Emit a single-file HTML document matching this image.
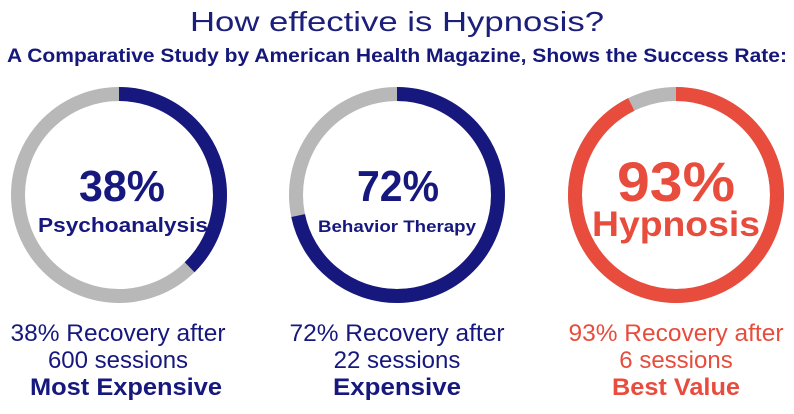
<!DOCTYPE html>
<html><head><meta charset="utf-8"><style>
html,body{margin:0;padding:0;background:#fff;width:794px;height:414px;overflow:hidden}
text{font-family:"Liberation Sans",sans-serif}
</style></head><body>
<svg width="794" height="414" viewBox="0 0 794 414" xmlns="http://www.w3.org/2000/svg">
<text x="397" y="31" text-anchor="middle" font-size="28" fill="#1b1f7a" textLength="414" lengthAdjust="spacingAndGlyphs">How effective is Hypnosis?</text>
<text x="397" y="62" text-anchor="middle" font-size="19" font-weight="bold" fill="#15187a" textLength="780" lengthAdjust="spacingAndGlyphs">A Comparative Study by American Health Magazine, Shows the Success Rate:</text>

<g fill="none" stroke-width="14">
<circle cx="119" cy="195" r="101" stroke="#b8b8b8"/>
<circle cx="119" cy="195" r="101" stroke="#16187e" stroke-dasharray="239 1000" transform="rotate(-90 119 195)"/>
<circle cx="397" cy="195" r="101" stroke="#b8b8b8"/>
<circle cx="397" cy="195" r="101" stroke="#16187e" stroke-dasharray="455 1000" transform="rotate(-90 397 195)"/>
<circle cx="676" cy="195" r="101" stroke="#b8b8b8"/>
<circle cx="676" cy="195" r="101" stroke="#e84c3d" stroke-dasharray="588 1000" transform="rotate(-90 676 195)"/>
</g>

<g font-weight="bold" text-anchor="middle">
<text x="122" y="201" font-size="44" fill="#16187e" textLength="86" lengthAdjust="spacingAndGlyphs">38%</text>
<text x="123" y="232" font-size="20" fill="#16187e" textLength="170" lengthAdjust="spacingAndGlyphs">Psychoanalysis</text>
<text x="398" y="201" font-size="44" fill="#16187e" textLength="82" lengthAdjust="spacingAndGlyphs">72%</text>
<text x="397" y="232" font-size="17" fill="#16187e" textLength="158" lengthAdjust="spacingAndGlyphs">Behavior Therapy</text>
<text x="676" y="201" font-size="56" fill="#e84c3d" textLength="118" lengthAdjust="spacingAndGlyphs">93%</text>
<text x="676" y="236" font-size="35" fill="#e84c3d" textLength="168" lengthAdjust="spacingAndGlyphs">Hypnosis</text>
</g>

<g text-anchor="middle" font-size="24">
<text x="118" y="341" fill="#16187e" textLength="215" lengthAdjust="spacingAndGlyphs">38% Recovery after</text>
<text x="118" y="368" fill="#16187e">600 sessions</text>
<text x="126" y="395" fill="#16187e" font-weight="bold" textLength="192" lengthAdjust="spacingAndGlyphs">Most Expensive</text>
<text x="397" y="341" fill="#16187e" textLength="215" lengthAdjust="spacingAndGlyphs">72% Recovery after</text>
<text x="397" y="368" fill="#16187e">22 sessions</text>
<text x="397" y="395" fill="#16187e" font-weight="bold" textLength="128" lengthAdjust="spacingAndGlyphs">Expensive</text>
<text x="676" y="341" fill="#e84c3d" textLength="215" lengthAdjust="spacingAndGlyphs">93% Recovery after</text>
<text x="676" y="368" fill="#e84c3d">6 sessions</text>
<text x="676" y="395" fill="#e84c3d" font-weight="bold" textLength="128" lengthAdjust="spacingAndGlyphs">Best Value</text>
</g>
</svg>
</body></html>
